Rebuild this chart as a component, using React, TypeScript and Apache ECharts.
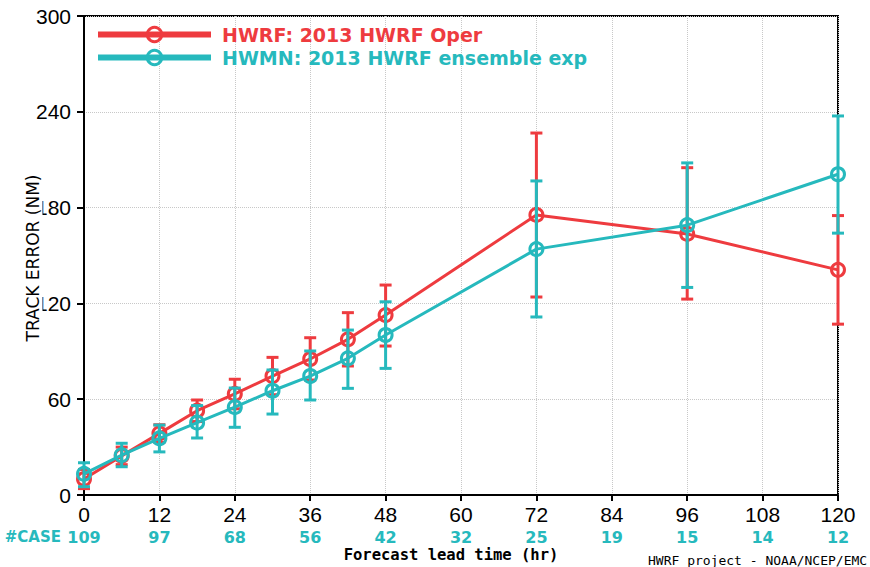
import React, { useEffect, useRef } from "react";
import * as echarts from "echarts";

const RED = "#ee3b3f";
const CYAN = "#26b9bd";

const leadTimes = [0, 6, 12, 18, 24, 30, 36, 42, 48, 72, 96, 120];
const hwrfMean = [10, 24.5, 38.6, 52.8, 63.3, 74.5, 85.2, 97.5, 112.7, 175.4, 163.5, 141];
const hwrfLow = [4, 19, 33, 46, 54, 62.8, 72, 80.8, 93.3, 124, 122.7, 107];
const hwrfHigh = [16, 30, 44, 59.5, 72.5, 86.2, 98.5, 114.2, 131.5, 226.7, 205, 175];
const hwmnMean = [13.2, 25, 35.5, 45.3, 55, 65.3, 74.5, 85.6, 100.2, 154, 169, 200.9];
const hwmnLow = [5.2, 17.7, 27, 35.7, 42.4, 50.7, 59.5, 66.8, 79.3, 111.5, 130, 164];
const hwmnHigh = [20.2, 32.4, 43.8, 56, 67, 78.3, 90.2, 103.3, 121, 196.7, 208, 237.4];

const caseHours = [0, 12, 24, 36, 48, 60, 72, 84, 96, 108, 120];
const caseCounts = [109, 97, 68, 56, 42, 32, 25, 19, 15, 14, 12];

const seriesNames = ["HWRF: 2013 HWRF Oper", "HWMN: 2013 HWRF ensemble exp"];

function errorBarSeries(color: string, low: number[], high: number[], z: number) {
  return {
    type: "custom",
    z,
    silent: true,
    data: leadTimes.map((t, i) => [t, low[i], high[i]]),
    encode: { x: 0, y: [1, 2] },
    renderItem: (params: any, api: any) => {
      const x = api.value(0);
      const pLo = api.coord([x, api.value(1)]);
      const pHi = api.coord([x, api.value(2)]);
      const hw = 6;
      const st = { stroke: color, lineWidth: 3 };
      return {
        type: "group",
        children: [
          { type: "line", shape: { x1: pLo[0], y1: pLo[1], x2: pHi[0], y2: pHi[1] }, style: st },
          { type: "line", shape: { x1: pLo[0] - hw, y1: pLo[1], x2: pLo[0] + hw, y2: pLo[1] }, style: st },
          { type: "line", shape: { x1: pHi[0] - hw, y1: pHi[1], x2: pHi[0] + hw, y2: pHi[1] }, style: st },
        ],
      };
    },
  };
}

function lineSeries(name: string, color: string, mean: number[], z: number) {
  return {
    name,
    type: "line",
    z,
    data: leadTimes.map((t, i) => [t, mean[i]]),
    symbol: "circle",
    symbolSize: 13,
    color,
    lineStyle: { color, width: 3 },
    itemStyle: { color: "rgba(255,255,255,0)", borderColor: color, borderWidth: 3 },
  };
}

export default function App() {
  const ref = useRef<HTMLDivElement>(null);
  useEffect(() => {
    if (!ref.current) return;
    const chart = echarts.init(ref.current, undefined, { renderer: "svg" });
    chart.setOption({
      animation: false,
      backgroundColor: "#ffffff",
      grid: {
        left: 84,
        right: 32,
        top: 16,
        bottom: 72,
        show: true,
        borderColor: "#000",
        borderWidth: 2,
      },
      legend: {
        orient: "vertical",
        left: 95,
        top: 25,
        padding: 0,
        itemWidth: 113,
        itemHeight: 18,
        itemGap: 4,
        lineStyle: { width: 6 },
        itemStyle: { borderWidth: 3 },
        data: [
          { name: seriesNames[0], textStyle: { color: RED } },
          { name: seriesNames[1], textStyle: { color: CYAN } },
        ],
        textStyle: {
          fontSize: 19,
          fontWeight: "bold",
          fontFamily: "DejaVu Sans",
          padding: [0, 0, 0, 6],
        },
      },
      xAxis: [
        {
          type: "value",
          min: 0,
          max: 120,
          interval: 12,
          axisLine: { lineStyle: { color: "#000", width: 2 } },
          axisTick: { show: true, length: 6, lineStyle: { color: "#000", width: 2 } },
          axisLabel: {
            color: "#000",
            fontSize: 21,
            fontFamily: "Liberation Sans",
            margin: 9,
            showMinLabel: true,
            showMaxLabel: true,
          },
          splitLine: { show: true, lineStyle: { color: "#c8c8c8", type: "dotted", width: 1 } },
        },
        {
          type: "value",
          position: "bottom",
          offset: 25,
          min: 0,
          max: 120,
          interval: 12,
          axisLine: { show: false },
          axisTick: { show: false },
          splitLine: { show: false },
          axisLabel: {
            color: CYAN,
            fontSize: 16,
            fontWeight: "bold",
            fontFamily: "DejaVu Sans",
            margin: 9,
            showMinLabel: true,
            showMaxLabel: true,
            formatter: (v: number) => {
              const i = caseHours.indexOf(v);
              return i >= 0 ? String(caseCounts[i]) : "";
            },
          },
        },
      ],
      yAxis: {
        type: "value",
        min: 0,
        max: 300,
        interval: 60,
        axisLine: { show: true, lineStyle: { color: "#000", width: 2 } },
        axisTick: { show: true, length: 7, lineStyle: { color: "#000", width: 2 } },
        axisLabel: {
          color: "#000",
          fontSize: 21,
          fontFamily: "Liberation Sans",
          margin: 13,
        },
        splitLine: { show: true, lineStyle: { color: "#c8c8c8", type: "dotted", width: 1 } },
      },
      graphic: [
        {
          type: "text",
          x: 33,
          y: 258,
          rotation: Math.PI / 2,
          z: 10,
          style: {
            text: "TRACK ERROR (NM)",
            fill: "#000",
            font: "17px 'DejaVu Sans'",
            align: "center",
            verticalAlign: "middle",
            backgroundColor: "#ffffff",
            padding: [1, 3],
          },
        },
        {
          type: "text",
          x: 61,
          y: 537,
          style: {
            text: "#CASE",
            fill: CYAN,
            font: "bold 15px 'DejaVu Sans'",
            align: "right",
            verticalAlign: "middle",
          },
        },
        {
          type: "text",
          x: 451,
          y: 555,
          style: {
            text: "Forecast lead time (hr)",
            fill: "#000",
            font: "bold 15.5px 'DejaVu Sans Mono'",
            align: "center",
            verticalAlign: "middle",
          },
        },
        {
          type: "text",
          x: 648,
          y: 560,
          style: {
            text: "HWRF project - NOAA/NCEP/EMC",
            fill: "#000",
            font: "13px 'DejaVu Sans Mono'",
            align: "left",
            verticalAlign: "middle",
          },
        },
      ],
      series: [
        errorBarSeries(RED, hwrfLow, hwrfHigh, 3),
        lineSeries(seriesNames[0], RED, hwrfMean, 4),
        errorBarSeries(CYAN, hwmnLow, hwmnHigh, 5),
        lineSeries(seriesNames[1], CYAN, hwmnMean, 6),
      ],
    });
    return () => chart.dispose();
  }, []);
  return <div ref={ref} style={{ width: 870, height: 567, position: "absolute", left: 0, top: 0 }} />;
}
